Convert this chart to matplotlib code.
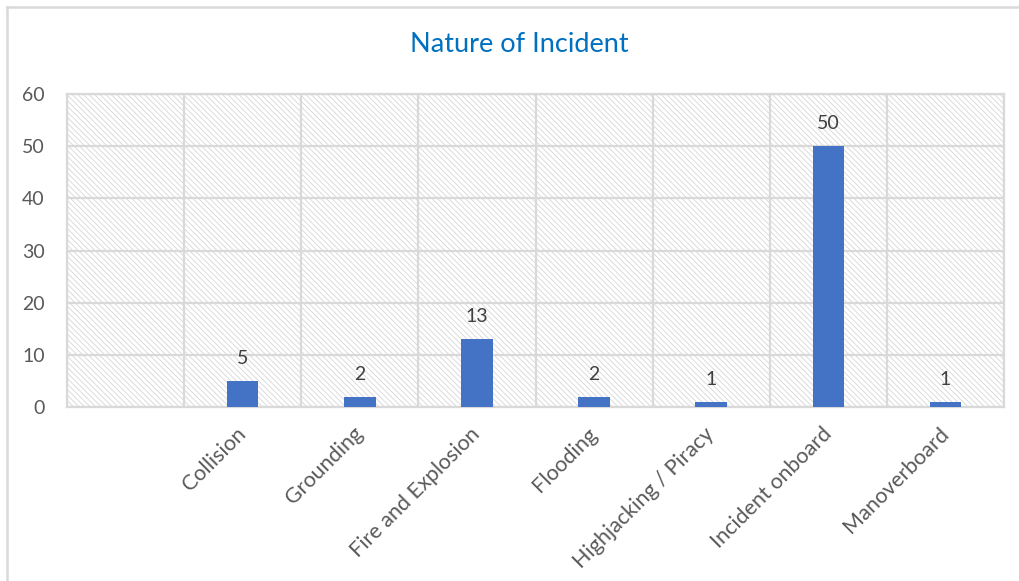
"""Bar chart: nature of incident counts, Excel-style hatched plot area."""

import matplotlib

matplotlib.use("Agg")
import matplotlib.pyplot as plt  # noqa: E402
from matplotlib.lines import Line2D  # noqa: E402
from matplotlib.patches import Rectangle  # noqa: E402

categories = ["", "Collision", "Grounding", "Fire and Explosion", "Flooding",
              "Highjacking / Piracy", "Incident onboard", "Manoverboard"]
counts = [None, 5, 2, 13, 2, 1, 50, 1]
y_ticks = [0, 10, 20, 30, 40, 50, 60]

GRID = "#d9d9d9"
TEXT = "#595959"
BAR = "#4472c4"

plt.rcParams["font.family"] = ["Lato", "DejaVu Sans"]
plt.rcParams["hatch.linewidth"] = 0.6
plt.rcParams["hatch.color"] = "#d6d6d6"

W, H = 1019, 581
fig = plt.figure(figsize=(W / 100, H / 100), dpi=100)
ax = fig.add_axes([67 / W, 1 - 407 / H, (1004 - 67) / W, (407 - 94) / H])

# hatched background of plot area
ax.add_patch(Rectangle((0, 0), 1, 1, transform=ax.transAxes, facecolor="white",
                       edgecolor="#d6d6d6", hatch="\\\\\\\\\\\\", lw=0, zorder=0))

xs = list(range(len(categories)))
for x, v in zip(xs, counts):
    if v is None:
        continue
    ax.bar(x, v, width=0.27, color=BAR, zorder=3)
    ax.annotate(str(v), (x, v), xytext=(0, 10), textcoords="offset points",
                ha="center", va="bottom", fontsize=14, color="#404040")

ax.set_xlim(-0.5, len(categories) - 0.5)
ax.set_ylim(0, 60)
ax.set_yticks(y_ticks)
ax.set_xticks(xs)
ax.set_xticklabels(categories, rotation=45, ha="right", va="center",
                   rotation_mode="anchor", fontsize=15.5, color=TEXT)
ax.set_xticks([x - 0.5 for x in xs] + [len(xs) - 0.5], minor=True)
ax.tick_params(axis="y", length=0, pad=16, labelsize=14, labelcolor=TEXT)
ax.tick_params(axis="x", which="both", length=0, pad=17)
ax.grid(axis="y", color=GRID, lw=1.6, zorder=1)
ax.grid(axis="x", which="minor", color=GRID, lw=1.6, zorder=1)
ax.grid(axis="x", which="major", visible=False)
ax.set_axisbelow(True)
for side in ["left", "right", "top", "bottom"]:
    ax.spines[side].set_color(GRID)
    ax.spines[side].set_linewidth(1.6)

fig.text(519 / W, 1 - 45 / H, "Nature of Incident", ha="center", va="center",
         fontsize=19.5, color="#0070c0")

# chart-area border (top and left edges visible)
fig.add_artist(Line2D([7 / W, 7 / W], [0, 1 - 7 / H], color=GRID, lw=1.8))
fig.add_artist(Line2D([7 / W, 1], [1 - 7 / H, 1 - 7 / H], color=GRID, lw=1.8))

fig.savefig("out.png", dpi=100)
